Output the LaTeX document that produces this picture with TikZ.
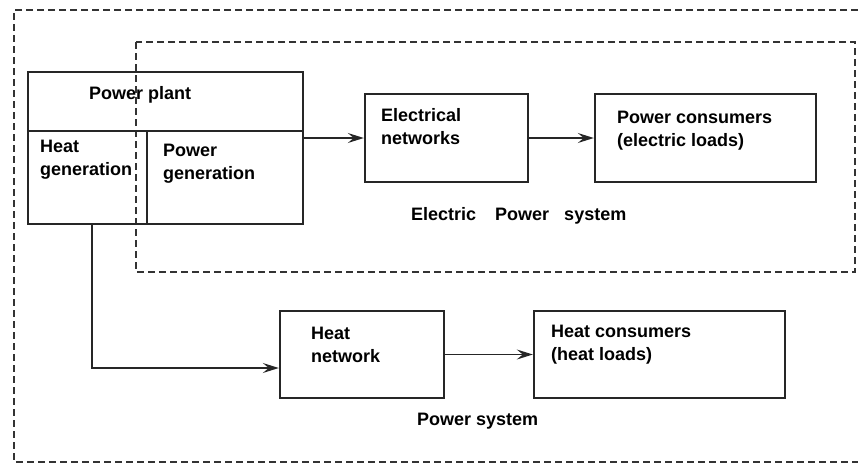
\documentclass[tikz,border=0pt]{standalone}
\usepackage{fontspec}
\setmainfont{Liberation Sans}
\usetikzlibrary{arrows.meta}
\begin{document}
\begin{tikzpicture}[x=1pt,y=-1pt,
 blk/.style={draw=black!85, line width=2.4pt, inner sep=0pt},
 lbl/.style={inner sep=0pt, align=left, anchor=north west, font=\fontsize{18}{23}\selectfont\bfseries},
 conn/.style={draw=black!85, line width=1.3pt},
 arr/.style={conn, -{Stealth[length=16pt,width=10pt,inset=6pt]}},
 dashbox/.style={draw=black!80, line width=1.3pt, dash pattern=on 7pt off 4pt}]
\useasboundingbox (0,0) rectangle (858,466);
% dashed system borders
\draw[dashbox] (858,10) -- (14,10) -- (14,462) -- (858,462);
\draw[dashbox] (136,42) rectangle (855,272);
% power plant
\node[blk, minimum width=275pt, minimum height=152pt] (plant) at (165.5,148) {};
\coordinate (div) at (0,131);
\coordinate (vd) at (147,131);
\draw[blk] (plant.west |- div) -- (plant.east |- div);
\draw[conn] (vd) -- (vd |- plant.south);
\node[lbl] (tpp) at (89,86) {Power plant};
\node[lbl] (theat) at (40,140) {Heat\\generation};
\node[lbl] (tpow) at (163,144) {Power\\generation};
% electric branch
\node[blk, minimum width=163pt, minimum height=88pt] (elec) at (446.5,138) {};
\node[lbl] (telec) at (381,108) {Electrical\\networks};
\node[blk, minimum width=221pt, minimum height=88pt] (pc) at (705.5,138) {};
\node[lbl] (tpc) at (617,111) {Power consumers\\(electric loads)};
\node[lbl] (teps) at (411,207) {Electric\hspace{14pt} Power\hspace{10pt} system};
% heat branch
\node[blk, minimum width=164pt, minimum height=87pt] (hn) at (362,354.5) {};
\node[lbl] (thn) at (311,327) {Heat\\network};
\node[blk, minimum width=251pt, minimum height=87pt] (hc) at (659.5,354.5) {};
\node[lbl] (thc) at (551,325) {Heat consumers\\(heat loads)};
\node[lbl] (tps) at (417,413) {Power system};
% connectors
\draw[arr] (plant.east |- elec.west) -- (elec.west);
\draw[arr] (elec.east) -- (pc.west);
\draw[arr] (hn.east) -- (hc.west);
\coordinate (hx) at (92,368);
\draw[arr] (hx |- plant.south) -- (hx) -- (hn.west |- hx);
\end{tikzpicture}
\end{document}
